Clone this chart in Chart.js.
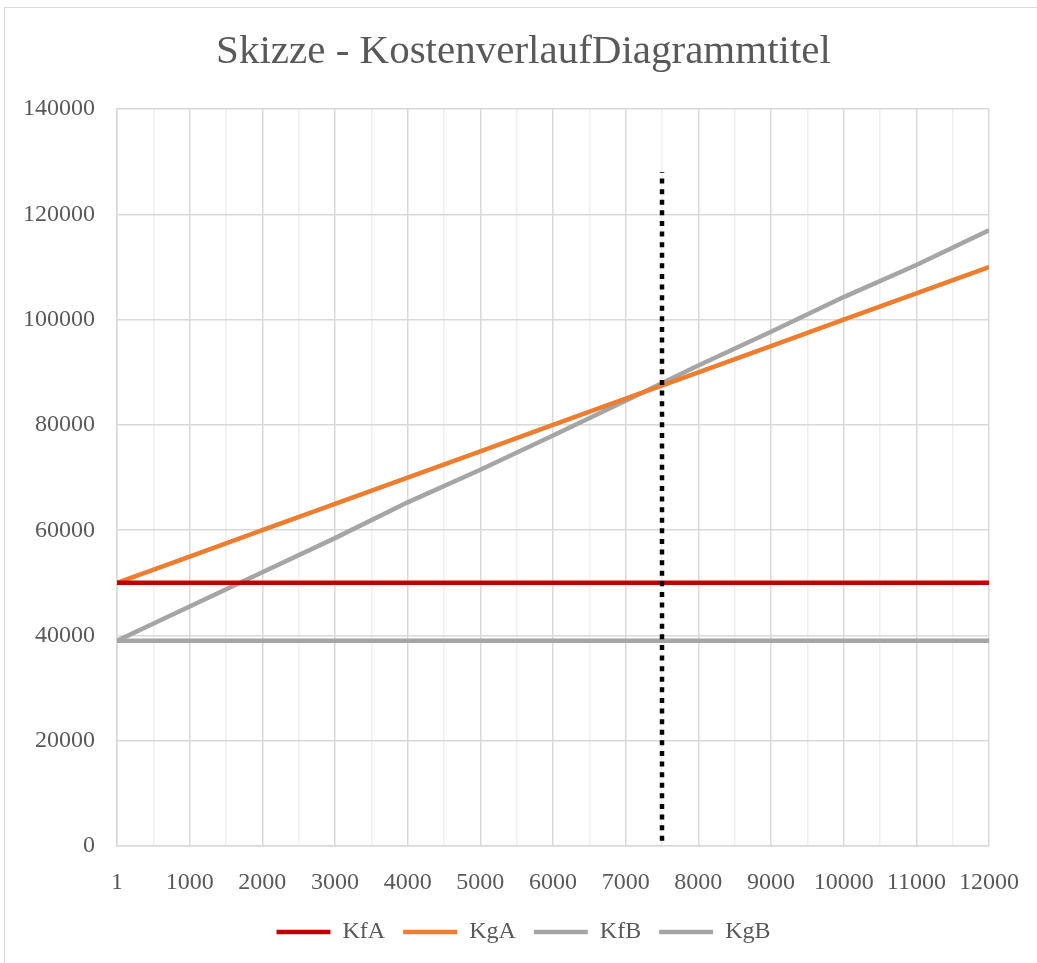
<!DOCTYPE html>
<html>
<head>
<meta charset="utf-8">
<script src="https://cdn.jsdelivr.net/npm/chart.js@4.4.0/dist/chart.umd.min.js"></script>
<style>
    html, body { margin: 0; padding: 0; background: #fff; }
    #frame { position: absolute; left: 4px; top: 7px; width: 1100px; height: 1000px; border: 1.5px solid #d9d9d9; }
    #wrap { position: absolute; left: 0; top: 0; width: 1037px; height: 963px; }
</style>
</head>
<body>
<div id="frame"></div>
<div id="wrap"><canvas id="costChart" width="1037" height="963"></canvas></div>
<script>
// x categories (Stückzahl) and tick labels
var xLabels = ['1', '1000', '2000', '3000', '4000', '5000', '6000', '7000', '8000', '9000', '10000', '11000', '12000'];

// cost series
var kfA = [50000, 50000, 50000, 50000, 50000, 50000, 50000, 50000, 50000, 50000, 50000, 50000, 50000];
var kgA = [50000, 55000, 60000, 65000, 70000, 75000, 80000, 85000, 90000, 95000, 100000, 105000, 110000];
var kfB = [39000, 39000, 39000, 39000, 39000, 39000, 39000, 39000, 39000, 39000, 39000, 39000, 39000];
var kgB = [39000, 45500, 52000, 58500, 65300, 71500, 78000, 84600, 91300, 97700, 104300, 110400, 117000];

// dotted marker line (break-even) between 7000 and 8000
var markerPos = 7.5;
var markerRange = [1000, 128000];

var yTicks = [0, 20000, 40000, 60000, 80000, 100000, 120000, 140000];

function toPoints(arr) {
    return arr.map(function (v, i) { return { x: i, y: v }; });
}

var serif = "'Liberation Serif', 'Times New Roman', serif";
var textColor = '#595959';

document.addEventListener('DOMContentLoaded', function () {
    var ctx = document.getElementById('costChart').getContext('2d');
    new Chart(ctx, {
        type: 'line',
        data: {
            datasets: [{
                label: 'Marker',
                data: [{ x: markerPos, y: markerRange[0] }, { x: markerPos, y: markerRange[1] }],
                borderColor: '#000000',
                borderWidth: 4.5,
                borderDash: [5, 5.6],
                borderCapStyle: 'butt',
                pointRadius: 0,
                order: 0
            }, {
                label: 'KfA',
                data: toPoints(kfA),
                borderColor: '#C00000',
                backgroundColor: '#C00000',
                borderWidth: 4.5,
                pointRadius: 0,
                order: 1
            }, {
                label: 'KgA',
                data: toPoints(kgA),
                borderColor: '#ED7D31',
                backgroundColor: '#ED7D31',
                borderWidth: 4.5,
                pointRadius: 0,
                order: 1
            }, {
                label: 'KfB',
                data: toPoints(kfB),
                borderColor: '#A5A5A5',
                backgroundColor: '#A5A5A5',
                borderWidth: 4.5,
                pointRadius: 0,
                order: 1
            }, {
                label: 'KgB',
                data: toPoints(kgB),
                borderColor: '#A5A5A5',
                backgroundColor: '#A5A5A5',
                borderWidth: 4.5,
                pointRadius: 0,
                order: 1
            }]
        },
        options: {
            responsive: false,
            animation: false,
            layout: {
                padding: { left: 10, right: 0, top: 0, bottom: 9 }
            },
            plugins: {
                title: {
                    display: true,
                    text: 'Skizze - KostenverlaufDiagrammtitel',
                    color: textColor,
                    font: { family: serif, size: 41, weight: 'normal' },
                    padding: { top: 28, bottom: 32 }
                },
                legend: {
                    position: 'bottom',
                    labels: {
                        color: textColor,
                        font: { family: serif, size: 24 },
                        usePointStyle: true,
                        pointStyle: 'line',
                        pointStyleWidth: 54,
                        padding: 18,
                        filter: function (item) { return item.text !== 'Marker'; }
                    }
                },
                tooltip: { enabled: false }
            },
            scales: {
                x: {
                    type: 'linear',
                    min: 0,
                    max: 12,
                    afterBuildTicks: function (scale) {
                        var ticks = [];
                        for (var i = 0; i <= 24; i++) ticks.push({ value: i / 2 });
                        scale.ticks = ticks;
                    },
                    afterFit: function (scale) {
                        scale.height = 56;
                        scale.paddingRight = 0;
                    },
                    grid: {
                        drawTicks: false,
                        color: function (c) {
                            return c.tick && Number.isInteger(c.tick.value) ? '#d9d9d9' : '#efefef';
                        },
                        lineWidth: 1.5
                    },
                    border: { color: '#d9d9d9', width: 1.5 },
                    ticks: {
                        autoSkip: false,
                        maxRotation: 0,
                        padding: 22,
                        color: textColor,
                        font: { family: serif, size: 24 },
                        callback: function (v) {
                            return Number.isInteger(v) ? xLabels[v] : '';
                        }
                    }
                },
                y: {
                    min: 0,
                    max: 140000,
                    afterBuildTicks: function (scale) {
                        scale.ticks = yTicks.map(function (v) { return { value: v }; });
                    },
                    afterFit: function (scale) { scale.width = 107; },
                    grid: { drawTicks: false, color: '#d9d9d9', lineWidth: 1.5 },
                    border: { color: '#d9d9d9', width: 1.5 },
                    ticks: {
                        padding: 22,
                        color: textColor,
                        font: { family: serif, size: 24 },
                        callback: function (v) { return String(v); }
                    }
                },
                // empty right-hand axis, only keeps the plot clear of the right edge
                yRight: {
                    position: 'right',
                    afterFit: function (scale) { scale.width = 48; },
                    grid: { display: false },
                    border: { display: false },
                    ticks: { display: false }
                }
            }
        }
    });
});
</script>
</body>
</html>
